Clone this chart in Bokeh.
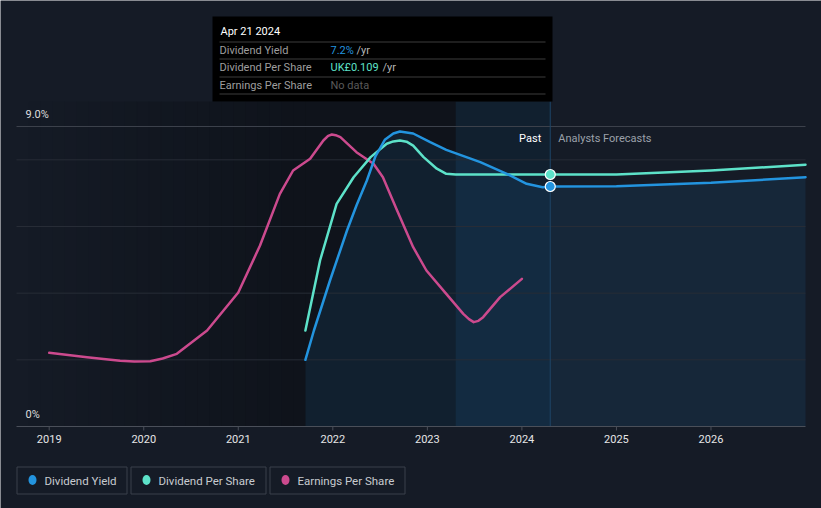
import numpy as np
from bokeh.plotting import figure
from bokeh.models import Range1d
from bokeh.core.properties import value
from bokeh.embed import file_html
from bokeh.resources import INLINE

# ---------------- data ----------------
NOW = 2024.3
BAND_START = 2023.3
TICK_YEARS = [2019, 2020, 2021, 2022, 2023, 2024, 2025, 2026]
TICK_LABELS = [str(y) for y in TICK_YEARS]
GRID_PCT = [2, 4, 6, 8]

yield_years = [2021.71, 2021.8, 2021.97, 2022.15, 2022.25, 2022.36, 2022.45, 2022.55, 2022.64,
               2022.71, 2022.85, 2023.03, 2023.2, 2023.56, 2023.84, 2024.05, 2024.22, 2024.3]
yield_pct = [2.0, 2.88, 4.38, 5.88, 6.63, 7.38, 8.1, 8.6, 8.79,
             8.85, 8.79, 8.53, 8.3, 7.93, 7.58, 7.28, 7.18, 7.2]
yield_fc_years = [2024.3, 2025.0, 2026.0, 2027.0]
yield_fc_pct = [7.2, 7.21, 7.31, 7.48]

dps_years = [2021.71, 2021.865, 2022.04, 2022.22, 2022.4, 2022.57, 2022.64, 2022.71, 2022.78,
             2022.85, 2022.96, 2023.1, 2023.2, 2023.3, 2024.3]
dps_gbp = [0.0415, 0.0718, 0.0963, 0.1078, 0.1165, 0.1223, 0.1233, 0.1237, 0.1232,
           0.1215, 0.1165, 0.1115, 0.1093, 0.109, 0.109]
dps_fc_years = [2024.3, 2025.0, 2026.0, 2027.0]
dps_fc_gbp = [0.109, 0.109, 0.1107, 0.1132]

eps_years = [2019.0, 2019.4, 2019.75, 2019.9, 2020.07, 2020.2, 2020.35, 2020.67, 2021.0,
             2021.23, 2021.44, 2021.58, 2021.76, 2021.9, 2021.95, 2021.99, 2022.03, 2022.08,
             2022.25, 2022.43, 2022.53, 2022.68, 2022.85, 2022.99, 2023.2, 2023.38, 2023.44,
             2023.49, 2023.54, 2023.59, 2023.77, 2024.0]
eps_gbp = [0.0442, 0.0416, 0.0394, 0.039, 0.0392, 0.0408, 0.0436, 0.0576, 0.0804,
           0.1086, 0.1396, 0.1536, 0.1606, 0.1716, 0.1744, 0.1752, 0.1748, 0.1736,
           0.1646, 0.1576, 0.1496, 0.1296, 0.1076, 0.0936, 0.0796, 0.0676, 0.0644,
           0.0626, 0.0634, 0.0656, 0.0776, 0.0886]

Y_LABELS = ["9.0%", "0%"]
Y_LABEL_VALUES = [9, 0]

TOOLTIP_DATE = "Apr 21 2024"
TOOLTIP_ROWS = ["Dividend Yield", "Dividend Per Share", "Earnings Per Share"]
TOOLTIP_VALUES = ["7.2%", "UK£0.109", "No data"]
LEGEND_NAMES = ["Dividend Yield", "Dividend Per Share", "Earnings Per Share"]

# ---------------- style / layout ----------------
BG = "#151b26"
BLUE = "#2394df"
TEAL = "#5de2c9"
PINK = "#cc4a8e"
FONT = value("Roboto")
W, H = 821, 508

# pixel layout of the chart area (decoration geometry only)
PX_PER_YEAR = 94.54
PX_2019 = 48.7
PX_ZERO = 426.0
PX_PER_PCT = 33.333


def px2x(px):
    return 2019 + (px - PX_2019) / PX_PER_YEAR


def py2y(py):
    return (PX_ZERO - py) / PX_PER_PCT


XL, XR = px2x(16), px2x(805)
YT = py2y(101)
K_DPS = 0.109 / 7.56     # UK£ per % of height
K_EPS = 0.02

p = figure(width=W, height=H, output_backend="svg", toolbar_location=None,
           x_range=Range1d(px2x(0), px2x(W)), y_range=Range1d(py2y(H), py2y(0)),
           x_axis_location=None, y_axis_location=None, min_border=0,
           background_fill_color=BG, border_fill_color=BG, outline_line_color=None)
p.grid.visible = False
p.extra_y_ranges = {"dps": Range1d(py2y(H) * K_DPS, py2y(0) * K_DPS),
                    "eps": Range1d(py2y(H) * K_EPS, py2y(0) * K_EPS)}

# past shading (darkening gradient toward the first dividend)
edges = np.linspace(XL, yield_years[0], 25)
alphas = np.linspace(0.0, 0.28, 24)
p.quad(left=edges[:-1], right=edges[1:] + 0.002, bottom=0, top=YT, fill_color="black",
       fill_alpha=alphas, line_color=None)
p.quad(left=yield_years[0], right=NOW, bottom=0, top=YT, fill_color="black",
       fill_alpha=0.28, line_color=None)

all_years = yield_years + yield_fc_years[1:]
all_yield = yield_pct + yield_fc_pct[1:]
p.varea(x=all_years, y1=[0] * len(all_years), y2=all_yield, fill_color=BLUE, fill_alpha=0.1)
p.quad(left=BAND_START, right=NOW, bottom=0, top=YT, fill_color=BLUE, fill_alpha=0.1,
       line_color=None)

# grid lines, top line, axis
p.segment(x0=[XL] * 4, x1=[XR] * 4, y0=GRID_PCT, y1=GRID_PCT, line_color="#272c36",
          line_width=1)
p.segment(x0=[XL], x1=[XR], y0=[9], y1=[9], line_color="#3c414b", line_width=1)
p.segment(x0=[NOW], x1=[NOW], y0=[0], y1=[YT], line_color="#1e4466", line_width=1)
p.segment(x0=[XL], x1=[XR], y0=[0], y1=[0], line_color="#4a4f59", line_width=1)
p.segment(x0=TICK_YEARS, x1=TICK_YEARS, y0=[0] * 8, y1=[py2y(430)] * 8,
          line_color="#4a4f59", line_width=1)
p.text(x=TICK_YEARS, y=[py2y(438.5)] * 8, text=TICK_LABELS, text_align="center",
       text_baseline="middle", text_color="#e6e6e6", text_font_size="11px", text_font=FONT)

p.text(x=[XL, XL], y=Y_LABEL_VALUES, text=Y_LABELS, x_offset=9, y_offset=-6,
       text_baseline="bottom", text_color="#dddddd", text_font_size="11px", text_font=FONT)

# series
p.line(eps_years, eps_gbp, y_range_name="eps", line_color=PINK, line_width=2.5,
       line_cap="round", line_join="round")
p.line(dps_years + dps_fc_years[1:], dps_gbp + dps_fc_gbp[1:], y_range_name="dps",
       line_color=TEAL, line_width=2.5, line_cap="round", line_join="round")
p.line(all_years, all_yield, line_color=BLUE, line_width=2.5, line_cap="round",
       line_join="round")

p.scatter(x=[NOW], y=[dps_gbp[-1]], y_range_name="dps", size=10, fill_color=TEAL,
          line_color="white", line_width=1.2)
p.scatter(x=[NOW], y=[yield_pct[-1]], size=10, fill_color=BLUE, line_color="white",
          line_width=1.2)

p.text(x=[NOW], y=[9], text=["Past"], x_offset=-9, y_offset=12, text_align="right",
       text_baseline="middle", text_color="#ffffff", text_font_size="11px", text_font=FONT)
p.text(x=[NOW], y=[9], text=["Analysts Forecasts"], x_offset=8, y_offset=12,
       text_align="left", text_baseline="middle", text_color="#9ba1aa",
       text_font_size="11px", text_font=FONT)

# ---------------- tooltip ----------------
p.quad(left=px2x(212), right=px2x(552), top=py2y(16), bottom=py2y(101),
       fill_color="#000000", line_color=None)
sep = [py2y(v) for v in (41.5, 58.5, 76.5, 93.5)]
p.segment(x0=[px2x(219)] * 4, x1=[px2x(545)] * 4, y0=sep, y1=sep, line_color="#3d3d3d",
          line_width=1)
rows_y = [py2y(v) for v in (49.5, 67, 84.5)]
p.text(x=[px2x(220)], y=[py2y(31)], text=[TOOLTIP_DATE], text_color="#ffffff",
       text_font_size="11px", text_font=FONT, text_baseline="middle")
p.text(x=[px2x(219)] * 3, y=rows_y, text=TOOLTIP_ROWS, text_color="#9e9e9e",
       text_font_size="11px", text_font=FONT, text_baseline="middle")
p.text(x=[px2x(330)] * 3, y=rows_y, text=TOOLTIP_VALUES,
       text_color=[BLUE, TEAL, "#5a5a5a"], text_font_size="11px", text_font=FONT,
       text_baseline="middle")
p.text(x=[px2x(356), px2x(382)], y=rows_y[:2], text=["/yr", "/yr"], text_color="#b5b5b5",
       text_font_size="11px", text_font=FONT, text_baseline="middle")

# ---------------- legend ----------------
lefts = [16.5, 130.5, 269.5]
rights = [126.5, 265.5, 404.5]
p.quad(left=[px2x(v) for v in lefts], right=[px2x(v) for v in rights],
       top=[py2y(466.5)] * 3, bottom=[py2y(493.5)] * 3, fill_color=None,
       line_color="#3a404b", line_width=1)
p.ellipse(x=[px2x(v + 15.5) for v in lefts], y=[py2y(479.5)] * 3, width=8, height=10,
          width_units="screen", height_units="screen", fill_color=[BLUE, TEAL, PINK],
          line_color=None)
p.text(x=[px2x(v + 27.5) for v in lefts], y=[py2y(480)] * 3, text=LEGEND_NAMES,
       text_color="#c8cbd0", text_font_size="11.5px", text_font=FONT,
       text_baseline="middle")

open("out.html", "w").write(file_html(p, INLINE))
